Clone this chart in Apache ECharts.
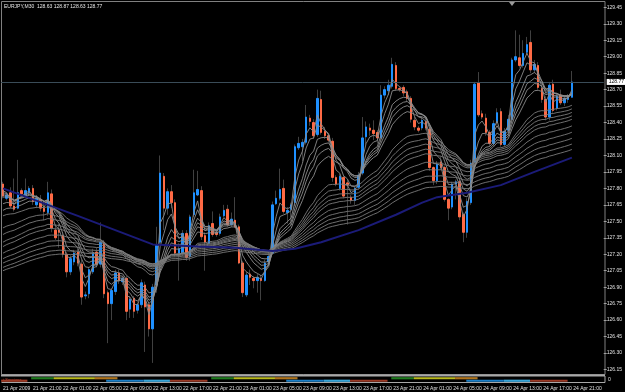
<!DOCTYPE html>
<html><head><meta charset="utf-8">
<script src="https://cdn.jsdelivr.net/npm/echarts@6/dist/echarts.min.js"></script>
<style>html,body{margin:0;padding:0;background:#000;}#c{width:625px;height:392px;}</style>
</head><body><div id="c"></div>
<script>
const symbolTitle = 'EURJPY,M30  128.63 128.87 128.63 128.77';
const openP = [127.84,127.71,127.76,127.64,127.62,127.78,127.73,127.76,127.80,127.65,127.70,127.62,127.58,127.75,127.42,127.42,127.37,127.20,127.04,127.13,127.22,127.11,126.82,126.84,127.04,127.22,127.11,127.31,126.85,126.75,126.86,127.03,126.95,126.98,126.70,126.80,126.69,126.74,126.92,126.74,126.52,126.92,127.31,127.91,127.62,127.77,127.67,127.21,127.21,127.39,127.18,127.56,127.74,127.78,127.37,127.30,127.48,127.40,127.39,127.55,127.61,127.47,127.51,127.45,127.12,126.83,127.02,126.98,126.96,126.98,126.96,127.13,127.21,127.66,127.71,127.80,127.58,127.61,127.67,128.17,128.18,128.22,128.44,128.40,128.29,128.61,128.32,128.28,128.23,127.90,127.80,127.90,127.85,127.72,127.69,127.81,127.94,128.27,128.35,128.33,128.31,128.26,128.65,128.69,128.73,128.92,128.71,128.72,128.68,128.62,128.42,128.35,128.35,128.41,128.34,127.99,127.87,128.04,127.99,127.70,127.63,127.84,127.86,127.56,127.40,127.67,128.04,128.76,128.48,128.44,128.31,128.21,128.40,128.50,128.20,128.33,128.43,128.97,128.99,128.92,129.04,129.13,128.88,128.92,128.71,128.61,128.45,128.75,128.53,128.65,128.58,128.61,128.63];
const highP = [127.86,127.76,127.81,127.89,128.06,127.80,127.89,127.82,127.83,127.74,127.74,127.69,127.86,127.79,127.47,127.48,127.40,127.22,127.19,127.24,127.25,127.15,126.86,127.08,127.25,127.26,127.49,127.33,126.87,126.89,127.06,127.06,127.00,127.00,126.82,126.82,126.76,126.97,126.95,126.76,126.93,127.45,128.10,127.94,127.80,127.83,127.70,127.30,127.42,127.42,127.56,127.97,127.96,127.82,127.40,127.49,127.59,127.42,127.57,127.65,127.65,127.58,127.72,127.47,127.14,127.04,127.06,127.00,127.02,127.01,127.15,127.22,127.68,127.78,127.98,127.88,127.63,127.67,128.20,128.27,128.25,128.56,128.47,128.43,128.70,128.69,128.36,128.30,128.26,127.92,127.93,127.92,127.88,127.74,127.82,127.95,128.45,128.41,128.39,128.42,128.33,128.74,128.73,128.79,128.99,128.95,128.73,128.74,128.70,128.64,128.45,128.37,128.45,128.44,128.36,128.00,128.05,128.09,128.01,127.71,127.86,127.88,127.89,127.58,127.71,128.06,128.77,128.86,128.51,128.48,128.33,128.42,128.53,128.53,128.35,128.47,128.99,129.24,129.20,129.15,129.18,129.24,128.97,128.95,128.73,128.64,128.77,128.79,128.67,128.70,128.65,128.66,128.87];
const lowP = [127.71,127.69,127.62,127.59,127.61,127.73,127.71,127.74,127.65,127.62,127.59,127.51,127.55,127.40,127.33,127.26,127.17,126.99,127.01,127.10,127.09,126.74,126.79,126.80,127.02,127.08,127.08,126.80,126.39,126.60,126.83,126.93,126.92,126.60,126.62,126.62,126.66,126.71,126.31,126.45,126.21,126.85,127.28,127.42,127.56,127.62,127.18,126.96,127.18,127.14,127.14,127.54,127.73,127.33,127.05,127.29,127.36,127.36,127.37,127.54,127.45,127.45,127.44,127.11,126.81,126.81,126.92,126.89,126.85,126.78,126.95,127.11,127.20,127.65,127.69,127.57,127.48,127.46,127.64,128.15,128.05,128.20,128.37,128.25,128.27,128.29,128.25,128.22,127.86,127.82,127.78,127.71,127.47,127.66,127.65,127.79,127.92,128.20,128.28,128.24,128.21,128.24,128.62,128.65,128.71,128.69,128.68,128.64,128.59,128.40,128.33,128.31,128.33,128.33,127.96,127.83,127.84,127.97,127.68,127.51,127.61,127.70,127.51,127.31,127.35,127.65,128.01,128.45,128.43,128.28,128.18,128.19,128.38,128.18,128.18,128.31,128.41,128.95,128.90,128.90,129.02,128.85,128.85,128.70,128.58,128.42,128.42,128.49,128.51,128.56,128.55,128.58,128.63];
const closeP = [127.73,127.74,127.64,127.61,127.76,127.75,127.78,127.80,127.68,127.71,127.62,127.59,127.76,127.44,127.35,127.40,127.20,127.04,127.16,127.21,127.12,126.81,126.83,127.06,127.21,127.11,127.31,126.84,126.75,126.87,127.03,126.96,126.98,126.68,126.79,126.68,126.74,126.94,126.72,126.52,126.90,127.28,127.94,127.62,127.77,127.67,127.21,127.25,127.39,127.17,127.54,127.76,127.79,127.36,127.31,127.46,127.38,127.38,127.54,127.60,127.47,127.52,127.45,127.12,126.85,127.01,126.99,126.96,126.99,126.96,127.12,127.18,127.65,127.71,127.79,127.59,127.60,127.65,128.18,128.21,128.22,128.45,128.41,128.28,128.62,128.31,128.28,128.24,127.90,127.84,127.91,127.73,127.83,127.69,127.80,127.92,128.26,128.36,128.33,128.30,128.26,128.65,128.70,128.74,128.93,128.71,128.70,128.67,128.62,128.43,128.36,128.33,128.42,128.35,127.99,127.87,128.02,127.99,127.70,127.62,127.84,127.86,127.54,127.40,127.68,128.03,128.75,128.47,128.45,128.31,128.21,128.39,128.49,128.20,128.32,128.43,128.97,129.00,128.92,129.03,129.11,128.88,128.93,128.72,128.61,128.45,128.74,128.51,128.64,128.58,128.62,128.64,128.77];

const tickLabels = ['21 Apr 2009','21 Apr 21:00','22 Apr 01:00','22 Apr 05:00','22 Apr 09:00','22 Apr 13:00','22 Apr 17:00','22 Apr 21:00','23 Apr 01:00','23 Apr 05:00','23 Apr 09:00','23 Apr 13:00','23 Apr 17:00','23 Apr 21:00','24 Apr 01:00','24 Apr 05:00','24 Apr 09:00','24 Apr 13:00','24 Apr 17:00','24 Apr 21:00'];

const emaPeriods = [3,5,8,10,12,15,30,35,40,45,50,60,70,80,90,100];
const emaStart = [127.78,127.76,127.74,127.72,127.66,127.60,127.55,127.44,127.38,127.31,127.27,127.21,127.16,127.12,127.08,127.05];

const blueBars = [0,20,40,52,62,72,78,85,95,105,112,116,124,133,142,152];
const blueVals = [127.80,127.55,127.29,127.27,127.26,127.23,127.25,127.31,127.42,127.56,127.67,127.72,127.76,127.83,127.95,128.08];

const sessSydney = [[8,14],[56,62],[104,110]];
const sessTokyo = [[14,25],[62,73],[110,121]];
const sessFrankfurt = [[25,31],[73,79],[121,127]];
const sessLondon = [[28,38],[76,86],[124,134]];
const sessOverlap = [[38,45],[86,93],[134,141]];
const sessNewYork = [[0,7],[45,55],[93,103],[141,151]];

const bidPrice = 128.77;

const categories = [];
for (let i = 0; i < 161; i++) {
  if (i < closeP.length) {
    const m = 17*60 + i*30; const d = 21 + Math.floor(m/1440); const mm = m % 1440;
    categories.push(d + ' Apr ' + String(Math.floor(mm/60)).padStart(2,'0') + ':' + String(mm%60).padStart(2,'0'));
  } else categories.push('');
}
const N = closeP.length;
const wickData = [], bodyData = [];
for (let i = 0; i < N; i++) {
  wickData.push([openP[i], closeP[i], lowP[i], highP[i]]);
  bodyData.push([openP[i], closeP[i], Math.min(openP[i],closeP[i]), Math.max(openP[i],closeP[i])]);
}
function ema(period, seed) {
  const a = 2/(period+1); let v = seed; const out = [];
  for (let i = 0; i < N; i++) { if (i > 0) v += a*(closeP[i]-v); out.push(+v.toFixed(4)); }
  return out;
}
const sessions = [];
[[sessSydney,1.5,'#1f7a1f'],[sessTokyo,1.5,'#b9b91c'],[sessFrankfurt,1.5,'#b0741c'],
 [sessLondon,0.5,'#1c80c8'],[sessOverlap,0.5,'#3aa6d8'],[sessNewYork,0.5,'#9c3a26']].forEach(([arr,row,col])=>{
  arr.forEach(([s,e])=>sessions.push({value:[s,e,row], itemStyle:{color:col}}));
});

const FONT = 'Liberation Sans';
const lineSeries = emaPeriods.map((p,k)=>({
  type:'line', name:'EMA'+p, data: ema(p, emaStart[k]), showSymbol:false, symbol:'none',
  lineStyle:{color: p <= 15 ? '#8c8c8c' : '#7a7a7a', width:0.9}, z:5, silent:true
}));

const chart = echarts.init(document.getElementById('c'), null, {renderer:'canvas'});
chart.setOption({
  animation:false,
  backgroundColor:'#000',
  grid:[{left:1.1, width:604, top:7.3, height:362.2},
        {left:1.1, width:604, top:377, height:5}],
  xAxis:[
    {type:'category', data:categories, gridIndex:0, show:false},
    {type:'category', data:categories, gridIndex:1,
     axisLine:{show:false}, axisTick:{show:false},
     axisLabel:{interval:(idx)=> idx%8===0 && idx<N, formatter:(v,idx)=>tickLabels[idx/8]||'',
       align:'left', margin:4, fontSize:5, fontFamily:FONT, color:'#e0e0e0'}}
  ],
  yAxis:[
    {type:'value', gridIndex:0, position:'right', min:126.15, max:129.45, interval:0.15,
     splitLine:{show:false}, axisLine:{show:false},
     axisTick:{show:true, length:3, lineStyle:{color:'#a0a0a0'}},
     axisLabel:{margin:3, fontSize:5, fontFamily:FONT, color:'#e0e0e0', formatter:(v)=>v.toFixed(2)}},
    {type:'value', gridIndex:1, min:0, max:2, show:false}
  ],
  series:[
    {type:'candlestick', name:'wick', data:wickData, barWidth:1,
     itemStyle:{color:'#505050', color0:'#505050', borderColor:'#505050', borderColor0:'#505050', borderWidth:0.8}, z:2, silent:true,
     markLine:{symbol:'none', silent:true, animation:false,
       lineStyle:{color:'#3a4c58', type:'solid', width:1},
       label:{show:true, position:'end', formatter:()=>bidPrice.toFixed(2), backgroundColor:'#fff', color:'#000',
         fontSize:5, fontFamily:FONT, padding:[1,2,0,2], distance:3},
       data:[{yAxis:bidPrice}]}},
    {type:'candlestick', name:'body', data:bodyData, barWidth:2,
     itemStyle:{color:'#1e90ff', color0:'#ff6a45', borderColor:'#1e90ff', borderColor0:'#ff6a45', borderWidth:1}, z:3, silent:true},
    ...lineSeries,
    {type:'line', name:'long', data:blueBars.map((b,k)=>[b, blueVals[k]]), showSymbol:false, symbol:'none',
     lineStyle:{color:'#1b1b78', width:2}, z:6, silent:true},
    {type:'custom', xAxisIndex:1, yAxisIndex:1, data:sessions, silent:true,
     renderItem:(params, api)=>{
       const bw = api.size([1,0])[0];
       const p0 = api.coord([api.value(0), api.value(2)]);
       const p1 = api.coord([api.value(1), api.value(2)]);
       return {type:'rect', shape:{x:p0[0]-bw/2, y:p0[1]-1.1, width:p1[0]-p0[0], height:2.2}, style:api.style()};
     }}
  ],
  graphic:[
    {type:'rect', shape:{x:1.5, y:1.5, width:603.5, height:373}, style:{fill:null, stroke:'#808080', lineWidth:1}, silent:true, z:0},
    {type:'rect', shape:{x:1, y:374.5, width:604, height:2}, style:{fill:'#a8a8a8'}, silent:true},
    {type:'line', shape:{x1:1.5, y1:382.5, x2:605, y2:382.5}, style:{stroke:'#a8a8a8', lineWidth:1}, silent:true},
    {type:'line', shape:{x1:605, y1:376, x2:605, y2:382.5}, style:{stroke:'#a8a8a8', lineWidth:1}, silent:true},
    {type:'text', left:4, top:4, style:{text:symbolTitle, fill:'#e8e8e8', font:'5px '+FONT}, silent:true},
    {type:'text', left:3, top:377.5, style:{text:'i-Sessions', fill:'#c84a3a', font:'4px '+FONT}, silent:true},
    {type:'text', left:608, top:377, style:{text:'0', fill:'#e0e0e0', font:'5px '+FONT}, silent:true},
    {type:'polygon', shape:{points:[[509,2],[515,2],[512,6]]}, style:{fill:'#9a9a9a'}, silent:true}
  ]
});
</script></body></html>
